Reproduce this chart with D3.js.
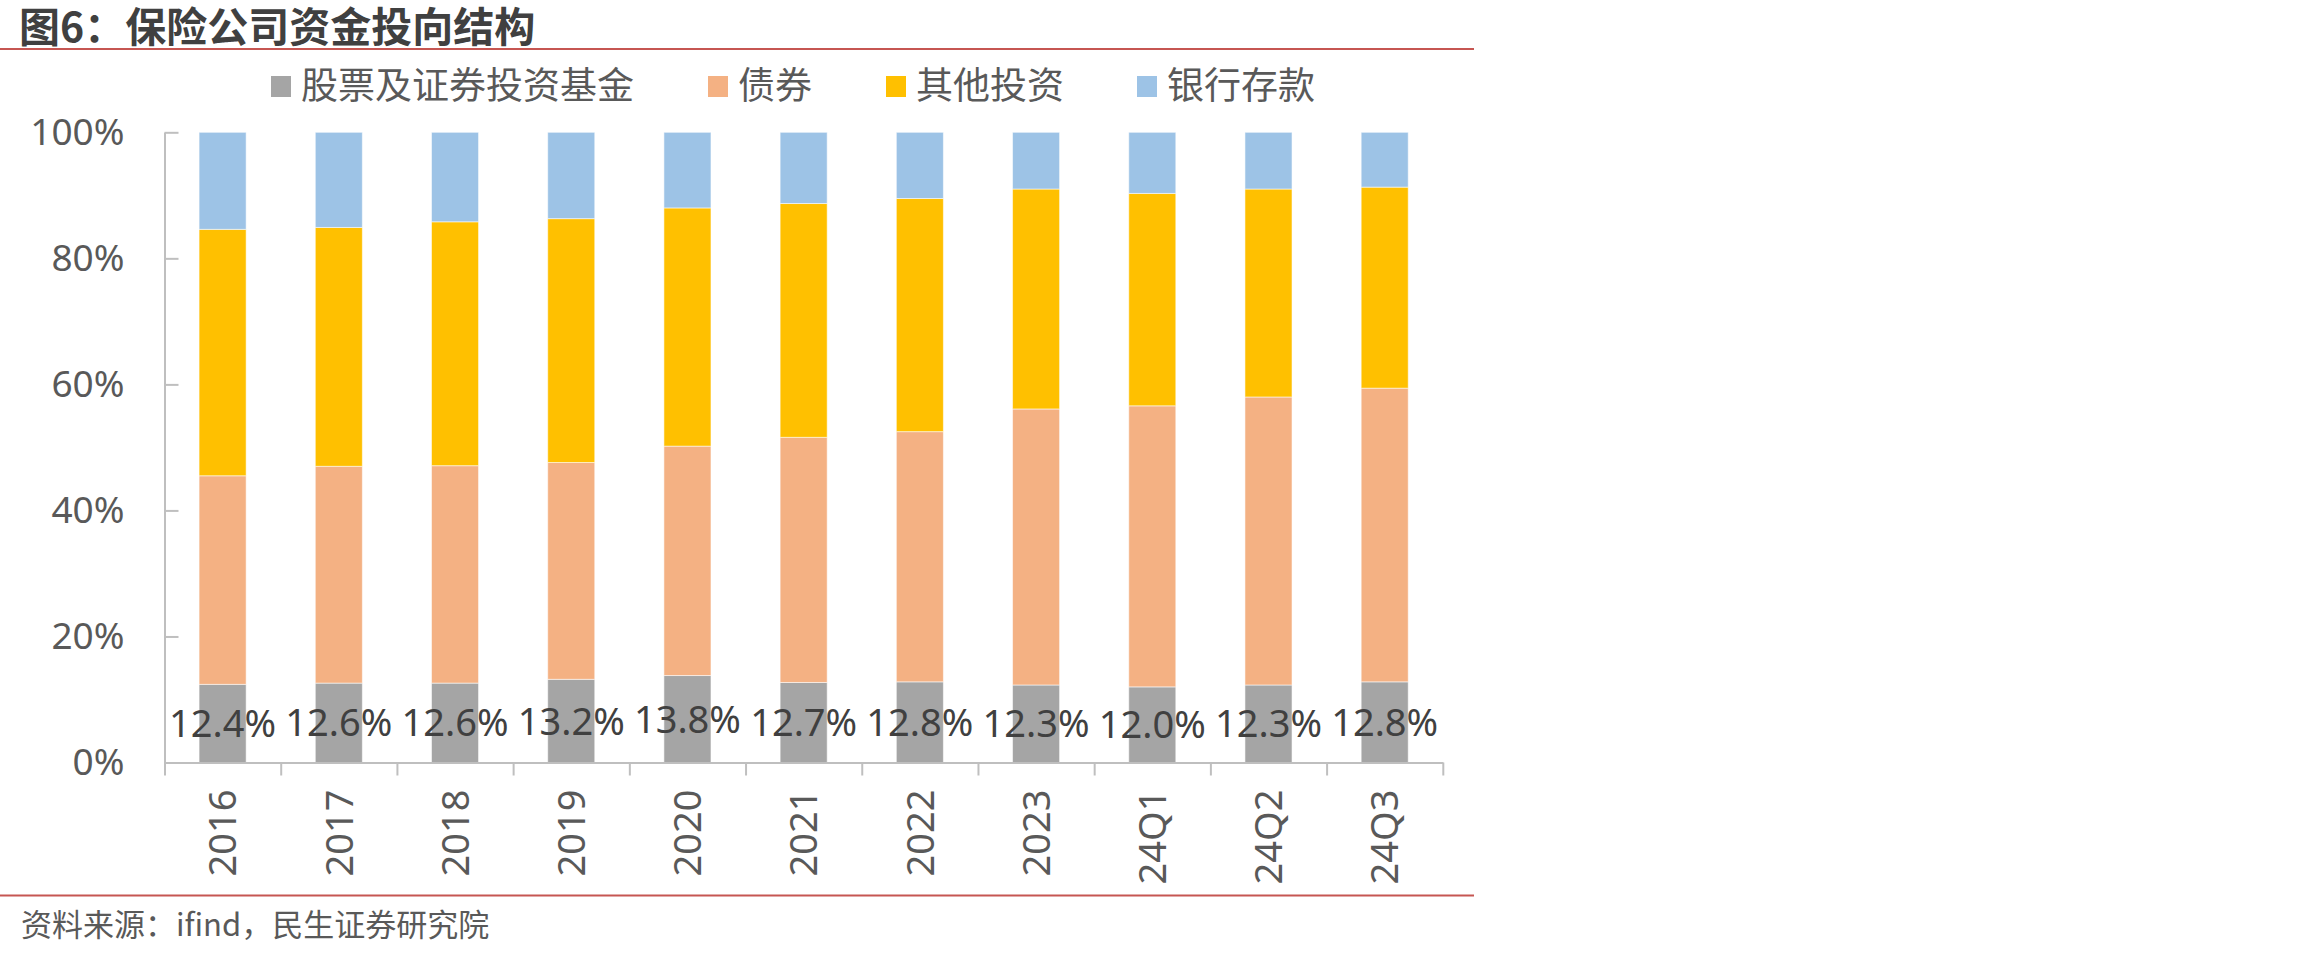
<!DOCTYPE html>
<html>
<head>
<meta charset="utf-8">
<script src="https://cdn.jsdelivr.net/npm/d3@7"></script>
<style>
  body { margin: 0; background: #fff; }
  svg { display: block; font-family: "Noto Sans", "Noto Sans CJK SC", sans-serif; }
</style>
</head>
<body>
<div id="chart"></div>
<script>
// data (percent of total)
const categories = ["2016", "2017", "2018", "2019", "2020", "2021", "2022", "2023", "24Q1", "24Q2", "24Q3"];
const stocks   = [12.4, 12.6, 12.6, 13.2, 13.8, 12.7, 12.8, 12.3, 12.0, 12.3, 12.8];
const bonds    = [33.1, 34.4, 34.5, 34.4, 36.4, 38.9, 39.7, 43.8, 44.6, 45.7, 46.6];
const others   = [39.1, 37.9, 38.7, 38.7, 37.8, 37.1, 37.0, 34.9, 33.7, 33.0, 31.9];
const deposits = [15.4, 15.1, 14.2, 13.7, 12.0, 11.3, 10.5, 9.0, 9.7, 9.0, 8.7];
const seriesNames = ["股票及证券投资基金", "债券", "其他投资", "银行存款"];
const yTicks = [0, 0.2, 0.4, 0.6, 0.8, 1];

const colors = ["#a5a5a5", "#f4b183", "#ffc000", "#9dc3e6"];

const width = 2310, height = 956;
const plot = { left: 164.5, right: 1442.8, top: 132.3, bottom: 762.5 };

const rows = categories.map((c, i) => ({
    cat: c, s0: stocks[i], s1: bonds[i], s2: others[i], s3: deposits[i]
}));
const keys = ["s0", "s1", "s2", "s3"];
const stacked = d3.stack().keys(keys)(rows);

const svg = d3.select("#chart").append("svg")
    .attr("width", width)
    .attr("height", height);

// title + rules
svg.append("text")
    .attr("x", 19)
    .attr("y", 42)
    .attr("font-size", 41)
    .attr("font-weight", "bold")
    .attr("fill", "#404040")
    .style("font-family", "'Noto Sans CJK SC', sans-serif")
    .text("图6：保险公司资金投向结构");

svg.append("line")
    .attr("x1", 0).attr("x2", 1474)
    .attr("y1", 49).attr("y2", 49)
    .attr("stroke", "#c65652").attr("stroke-width", 2);

svg.append("line")
    .attr("x1", 0).attr("x2", 1474)
    .attr("y1", 895.5).attr("y2", 895.5)
    .attr("stroke", "#c65652").attr("stroke-width", 2);

svg.append("text")
    .attr("x", 21)
    .attr("y", 936)
    .attr("font-size", 31)
    .attr("fill", "#595959")
    .style("font-family", "'Noto Sans CJK SC', sans-serif")
    .text("资料来源：ifind，民生证券研究院");

// scales
const xScale = d3.scaleBand()
    .domain(categories)
    .range([plot.left, plot.right])
    .paddingInner(0.595)
    .paddingOuter(0.2975);

const yScale = d3.scaleLinear()
    .domain([0, 1])
    .range([plot.bottom, plot.top]);

const edgeScale = d3.scaleLinear()
    .domain([0, categories.length])
    .range([plot.left, plot.right]);

// bars
const layers = svg.append("g").selectAll("g")
    .data(stacked)
    .join("g")
    .attr("fill", (d, i) => colors[i]);

layers.selectAll("rect")
    .data(d => d)
    .join("rect")
    .attr("x", d => xScale(d.data.cat))
    .attr("width", xScale.bandwidth())
    .attr("y", d => yScale(d[1] / 100))
    .attr("height", d => yScale(d[0] / 100) - yScale(d[1] / 100))
    .attr("stroke", "#fff")
    .attr("stroke-opacity", 0.55)
    .attr("stroke-width", 1);

// y axis (ticks pointing inward)
const yAxis = svg.append("g")
    .attr("transform", `translate(${plot.left},0)`)
    .call(d3.axisLeft(yScale)
        .tickValues(yTicks)
        .tickFormat(d3.format(".0%"))
        .tickSizeInner(-14)
        .tickSizeOuter(0)
        .tickPadding(40));

yAxis.select(".domain").attr("stroke", "#bfbfbf").attr("stroke-width", 2);
yAxis.selectAll(".tick line").attr("stroke", "#bfbfbf").attr("stroke-width", 2);
yAxis.selectAll(".tick text")
    .attr("font-size", 37)
    .attr("fill", "#595959")
    .style("font-family", "'Noto Sans', sans-serif");

// x axis: boundary ticks
const xEdges = svg.append("g")
    .attr("transform", `translate(0,${plot.bottom})`)
    .call(d3.axisBottom(edgeScale)
        .tickValues(d3.range(categories.length + 1))
        .tickFormat("")
        .tickSizeInner(13)
        .tickSizeOuter(0));

xEdges.select(".domain").attr("stroke", "#bfbfbf").attr("stroke-width", 2);
xEdges.selectAll(".tick line").attr("stroke", "#bfbfbf").attr("stroke-width", 2);

// x axis: category labels
const xAxis = svg.append("g")
    .attr("transform", `translate(0,${plot.bottom})`)
    .call(d3.axisBottom(xScale).tickSize(0));

xAxis.select(".domain").remove();
xAxis.selectAll(".tick text")
    .attr("transform", "rotate(-90)")
    .attr("x", -27)
    .attr("y", 0)
    .attr("dy", "0.36em")
    .attr("text-anchor", "end")
    .attr("font-size", 38)
    .attr("fill", "#595959")
    .style("font-family", "'Noto Sans', sans-serif");

// data labels for the first series
svg.append("g").selectAll("text")
    .data(stacked[0])
    .join("text")
    .attr("x", d => xScale(d.data.cat) + xScale.bandwidth() / 2)
    .attr("y", d => (yScale(d[0] / 100) + yScale(d[1] / 100)) / 2)
    .attr("dy", "0.36em")
    .attr("text-anchor", "middle")
    .attr("font-size", 38)
    .attr("fill", "#404040")
    .style("font-family", "'Noto Sans', sans-serif")
    .text(d => d3.format(".1f")(d[1] - d[0]) + "%");

// legend
const legendX = [271, 708, 886, 1137];
const legend = svg.append("g");
seriesNames.forEach(function(name, i) {
    let item = legend.append("g")
        .attr("transform", `translate(${legendX[i]},0)`);

    item.append("rect")
        .attr("y", 76)
        .attr("width", 20)
        .attr("height", 21)
        .attr("fill", colors[i]);

    item.append("text")
        .attr("x", 30)
        .attr("y", 99)
        .attr("font-size", 37)
        .attr("fill", "#595959")
        .style("font-family", "'Noto Sans CJK SC', sans-serif")
        .text(name);
});
</script>
</body>
</html>
